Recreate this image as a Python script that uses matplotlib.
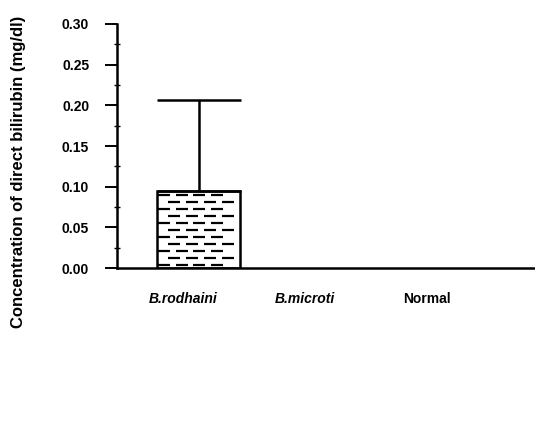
import numpy as np
import matplotlib
matplotlib.use("Agg")
import matplotlib.pyplot as plt
from matplotlib.ticker import MultipleLocator

# data
groups = ["B.rodhaini", "B.microti", "Normal"]
means = [0.095, 0.0, 0.0]
sd_up = [0.112, 0.0, 0.0]
italic = [True, True, False]

plt.rcParams["font.family"] = ["Liberation Sans", "DejaVu Sans"]

fig = plt.figure(figsize=(5.35, 4.21), dpi=100)
ax = fig.add_axes([0.2187, 0.3634, 0.7813, 0.5796])

x = np.arange(len(groups))
bw = 0.68
off = 0.13
ax.bar(x[0] + off, means[0], width=bw, color="white", edgecolor="black", linewidth=1.8, zorder=2)
ax.errorbar(x[0] + off, means[0], yerr=[[0], [sd_up[0]]], fmt="none", ecolor="black",
            elinewidth=1.8, capsize=30, capthick=1.8, zorder=3)

# staggered dash fill inside the bar
x0 = x[0] + off - bw / 2
nrows = 11
for i in range(nrows):
    yy = means[0] * (i + 0.4) / nrows
    if i % 2:
        cols = np.linspace(x0 + bw * 0.2, x0 + bw * 0.85, 4)
    else:
        cols = np.linspace(x0 + bw * 0.08, x0 + bw * 0.72, 4)
    ax.plot(cols, np.full_like(cols, yy), ls="none", marker="_", ms=9, mew=1.6, color="black", zorder=3)

ax.set_xlim(-0.54, 2.885)
ax.set_ylim(0, 0.30)
ax.yaxis.set_minor_locator(MultipleLocator(0.025))
yt = np.arange(0, 0.301, 0.05)
ax.set_yticks(yt)
ax.set_yticklabels([f"{v:.2f}" for v in yt], fontsize=10, fontweight="bold")
ax.tick_params(axis="y", which="major", direction="out", length=9, width=1.4, pad=11)
ax.tick_params(axis="y", which="minor", direction="inout", length=5, width=1.0)
ax.set_xticks(x)
ax.set_xticklabels(groups, fontsize=10, fontweight="bold")
for lab, it in zip(ax.get_xticklabels(), italic):
    if it:
        lab.set_fontstyle("italic")
ax.tick_params(axis="x", length=0, pad=17)

for s in ["top", "right"]:
    ax.spines[s].set_visible(False)
ax.spines["left"].set_linewidth(1.8)
ax.spines["bottom"].set_linewidth(1.8)

ax.set_ylabel("Concentration of direct bilirubin (mg/dl)", fontsize=12, fontweight="bold")
ax.yaxis.set_label_coords(-91 / 418, (268 - 172) / 244)

fig.savefig("out.png", dpi=100)
